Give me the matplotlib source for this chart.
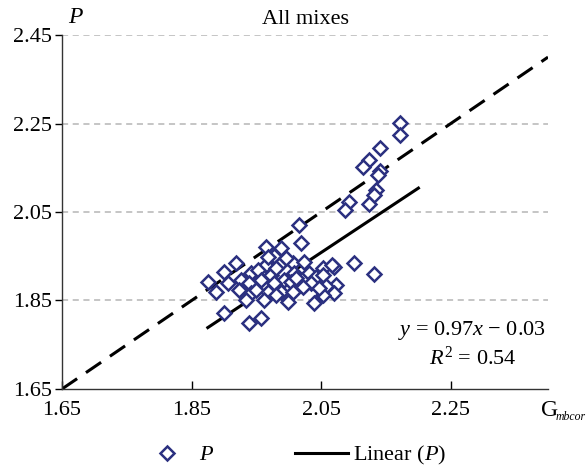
import matplotlib.pyplot as plt
import numpy as np

plt.rcParams['font.family'] = ['Liberation Serif', 'DejaVu Serif']
plt.rcParams['mathtext.fontset'] = 'custom'
plt.rcParams['mathtext.rm'] = 'Liberation Serif'
plt.rcParams['mathtext.it'] = 'Liberation Serif:italic'

# data
gmb = [2.171, 2.171, 2.140, 2.124, 2.115, 2.141, 2.138, 2.135, 2.131, 2.124,
       2.093, 2.086, 2.100, 2.131, 2.069, 2.073, 2.016, 2.019, 1.988, 1.977,
       1.965, 1.985, 1.965, 2.007, 2.024, 2.031, 2.008, 2.053, 2.066, 2.042,
       2.053, 1.972, 1.993, 1.977, 2.003, 2.034, 2.022, 1.968, 1.988, 2.007,
       2.058, 1.962, 1.999, 2.070, 2.052, 2.039, 1.957, 1.918, 1.900, 1.875,
       1.887, 1.906, 1.926, 1.941, 1.952, 1.938, 1.957, 1.923, 1.941, 1.900,
       1.938, 1.968, 1.980, 1.996, 1.949, 1.934, 2.011, 2.047, 1.980]
p_val = [2.251, 2.224, 2.195, 2.167, 2.152, 2.143, 2.134, 2.100, 2.088, 2.068,
         2.073, 2.055, 1.935, 1.910, 1.926, 1.885, 2.021, 1.980, 1.969, 1.951,
         1.971, 1.930, 1.930, 1.935, 1.937, 1.912, 1.912, 1.923, 1.930, 1.903,
         1.908, 1.908, 1.896, 1.890, 1.892, 1.890, 1.881, 1.869, 1.869, 1.869,
         1.883, 1.851, 1.847, 1.867, 1.862, 1.844, 1.810, 1.935, 1.914, 1.892,
         1.869, 1.890, 1.896, 1.912, 1.919, 1.890, 1.896, 1.874, 1.867, 1.822,
         1.799, 1.948, 1.923, 1.946, 1.874, 1.851, 1.901, 1.878, 1.862]

slope, intercept = 0.97, -0.03
fit_x = [1.875, 2.2]
equal_x = [1.65, 2.40]
ticks = [1.65, 1.85, 2.05, 2.25, 2.45]
xticks = [1.65, 1.85, 2.05, 2.25]

navy = '#2b3080'

fig = plt.figure(figsize=(5.87, 4.73), dpi=100)
ax = fig.add_axes([0.1056, 0.1776, 0.828, 0.7484])

for t in ticks[1:]:
    ax.axhline(t, color='#b5b5b5', lw=1.1, ls=(0, (4, 3)), zorder=0)

ax.plot(equal_x, equal_x, color='black', lw=2.2, ls=(0, (6, 3.5)), zorder=2)
fx = np.array(fit_x)
ax.plot(fx, slope * fx + intercept, color='black', lw=2.2, zorder=3,
        label='Linear ($P$)')
ax.plot(gmb, p_val, ls='none', marker='D', ms=7.3, mfc='white', mec=navy,
        mew=1.8, zorder=4, label='$P$')

ax.set_xlim(1.65, 2.40)
ax.set_ylim(1.65, 2.45)
ax.set_xticks(xticks)
ax.set_yticks(ticks)
ax.set_xticklabels([f'{t:.2f}' for t in xticks])
ax.set_yticklabels([f'{t:.2f}' for t in ticks])
ax.tick_params(axis='x', direction='in', length=6, labelsize=16, pad=9, width=1)
ax.tick_params(axis='y', direction='out', length=5, labelsize=16, pad=2, width=1)
for s in ['top', 'right']:
    ax.spines[s].set_visible(False)
for s in ['left', 'bottom']:
    ax.spines[s].set_color('#333333')
    ax.spines[s].set_linewidth(1)

ax.text(0.5, 1.045, 'All mixes', transform=ax.transAxes, ha='center',
        va='center', fontsize=16)
ax.text(0.012, 1.05, '$P$', transform=ax.transAxes, ha='left', va='center',
        fontsize=17)
fig.text(0.921, 0.133, 'G', ha='left', va='center', fontsize=17)
fig.text(0.947, 0.118, 'mbcor', ha='left', va='center', fontsize=8.5,
         fontstyle='italic')
ax.text(0.995, 0.165, '$y$ = 0.97$x$ − 0.03', transform=ax.transAxes,
        ha='right', va='center', fontsize=16)
ax.text(0.935, 0.088, '$R^2$ = 0.54', transform=ax.transAxes,
        ha='right', va='center', fontsize=16)

h, l = ax.get_legend_handles_labels()
fig.legend(h[::-1], l[::-1], loc='center', bbox_to_anchor=(0.5, 0.037),
           ncol=2, frameon=False, fontsize=16, handlelength=2.4,
           columnspacing=3.6, handletextpad=0.25)

fig.savefig('out.png', dpi=100)
